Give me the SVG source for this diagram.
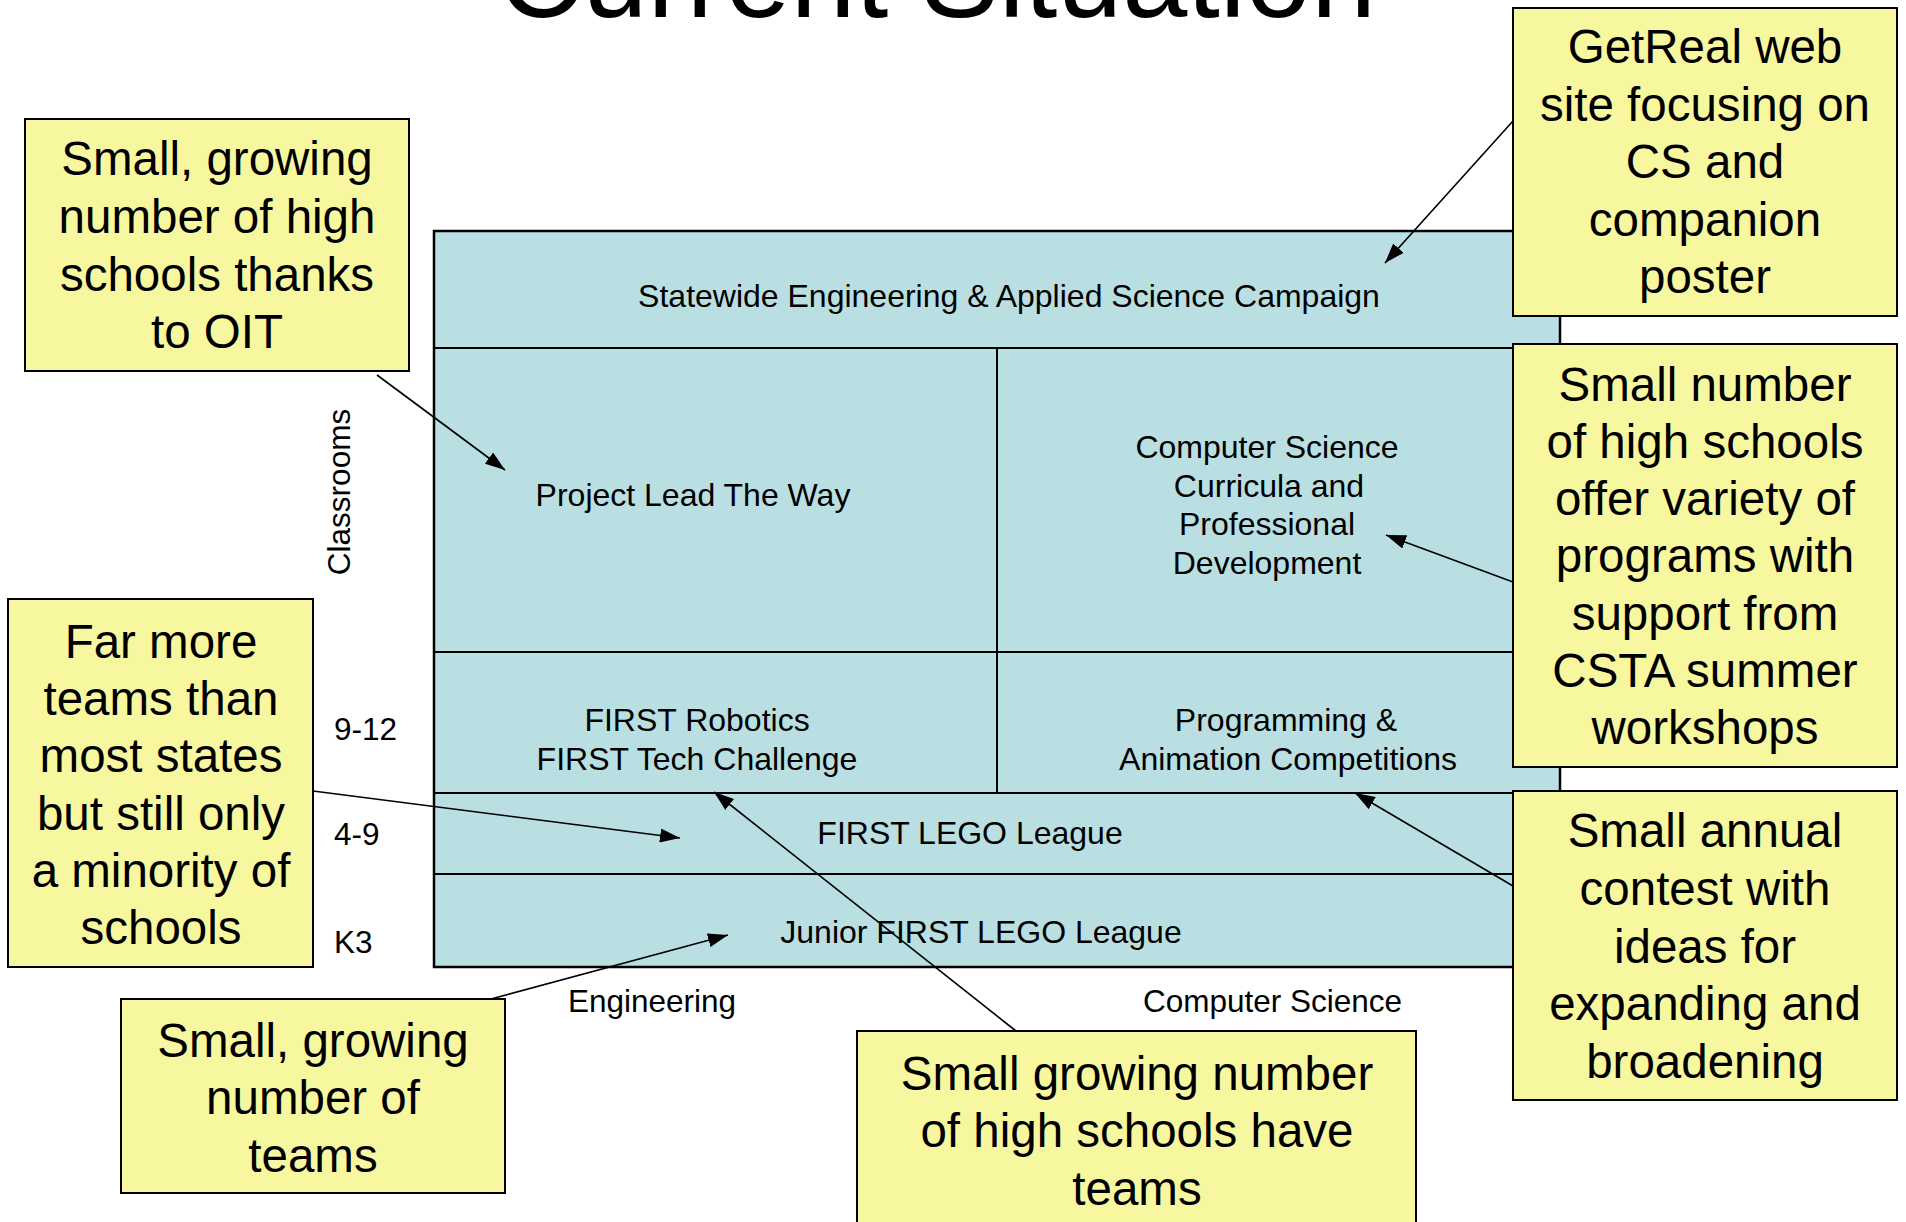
<svg xmlns="http://www.w3.org/2000/svg" width="1906" height="1222" viewBox="0 0 1906 1222">
<style>
text { font-family: "Liberation Sans", Arial, sans-serif; fill: #000; }
.title { font-size: 117px; text-anchor: middle; }
.cell { font-size: 32px; text-anchor: middle; }
.lab { font-size: 31.5px; }
.call { fill: #F7F79F; stroke: #000; stroke-width: 2; }
.ct { font-size: 47.5px; text-anchor: middle; }
.grid { stroke: #000; stroke-width: 2; fill: none; }
.conn { stroke: #000; stroke-width: 1.6; fill: none; marker-end: url(#ah); }
</style>
<defs>
<marker id="ah" viewBox="0 0 20 14" refX="20" refY="7" markerWidth="20" markerHeight="14" markerUnits="userSpaceOnUse" orient="auto">
<path d="M0,0 L20,7 L0,14 z" fill="#000"/>
</marker>
</defs>
<rect width="1906" height="1222" fill="#fff"/>
<text class="title" x="937" y="17">Current Situation</text>

<g id="matrix">
<rect x="434" y="231" width="1126" height="736" fill="#B9DFE2" stroke="#000" stroke-width="2.5"/>
<line class="grid" x1="434" y1="348" x2="1560" y2="348"/>
<line class="grid" x1="434" y1="652" x2="1560" y2="652"/>
<line class="grid" x1="434" y1="793" x2="1560" y2="793"/>
<line class="grid" x1="434" y1="874" x2="1560" y2="874"/>
<line class="grid" x1="997" y1="348" x2="997" y2="793"/>
</g>
<g id="cell-campaign"><text class="cell" x="1009" y="307">Statewide Engineering &amp; Applied Science Campaign</text></g>
<g id="cell-pltw"><text class="cell" x="693" y="506">Project Lead The Way</text></g>
<g id="cell-cs"><text class="cell" x="1267" y="458">Computer Science</text><text class="cell" x="1269" y="496.5">Curricula and</text><text class="cell" x="1267" y="535">Professional</text><text class="cell" x="1267" y="573.5">Development</text></g>
<g id="cell-first"><text class="cell" x="697" y="731">FIRST Robotics</text><text class="cell" x="697" y="770">FIRST Tech Challenge</text></g>
<g id="cell-prog"><text class="cell" x="1286" y="731">Programming &amp;</text><text class="cell" x="1288" y="770">Animation Competitions</text></g>
<g id="cell-fll"><text class="cell" x="970" y="844">FIRST LEGO League</text></g>
<g id="cell-jfll"><text class="cell" x="981" y="943">Junior FIRST LEGO League</text></g>

<g id="axis-labels">
<text class="lab" x="334" y="740">9-12</text>
<text class="lab" x="334" y="845">4-9</text>
<text class="lab" x="334" y="953">K3</text>
<text class="lab" x="568" y="1012">Engineering</text>
<text class="lab" x="1143" y="1012">Computer Science</text>
<text class="lab" text-anchor="middle" transform="translate(350,492) rotate(-90)">Classrooms</text>
</g>

<g id="note-oit">
<rect class="call" x="25" y="119" width="384" height="252"/>
<text class="ct" x="217" y="175">Small, growing</text>
<text class="ct" x="217" y="233">number of high</text>
<text class="ct" x="217" y="291">schools thanks</text>
<text class="ct" x="217" y="348">to OIT</text>
</g>
<g id="note-getreal">
<rect class="call" x="1513" y="8" width="384" height="308"/>
<text class="ct" x="1705" y="63">GetReal web</text>
<text class="ct" x="1705" y="121">site focusing on</text>
<text class="ct" x="1705" y="178">CS and</text>
<text class="ct" x="1705" y="236">companion</text>
<text class="ct" x="1705" y="293">poster</text>
</g>
<g id="note-csta">
<rect class="call" x="1513" y="344" width="384" height="423"/>
<text class="ct" x="1705" y="401">Small number</text>
<text class="ct" x="1705" y="458">of high schools</text>
<text class="ct" x="1705" y="515">offer variety of</text>
<text class="ct" x="1705" y="572">programs with</text>
<text class="ct" x="1705" y="630">support from</text>
<text class="ct" x="1705" y="687">CSTA summer</text>
<text class="ct" x="1705" y="744">workshops</text>
</g>
<g id="note-contest">
<rect class="call" x="1513" y="791" width="384" height="309"/>
<text class="ct" x="1705" y="847">Small annual</text>
<text class="ct" x="1705" y="905">contest with</text>
<text class="ct" x="1705" y="963">ideas for</text>
<text class="ct" x="1705" y="1020">expanding and</text>
<text class="ct" x="1705" y="1078">broadening</text>
</g>
<g id="note-fll">
<rect class="call" x="8" y="599" width="305" height="368"/>
<text class="ct" x="161" y="658">Far more</text>
<text class="ct" x="161" y="715">teams than</text>
<text class="ct" x="161" y="772">most states</text>
<text class="ct" x="161" y="830">but still only</text>
<text class="ct" x="161" y="887">a minority of</text>
<text class="ct" x="161" y="944">schools</text>
</g>
<g id="note-jfll">
<rect class="call" x="121" y="999" width="384" height="194"/>
<text class="ct" x="313" y="1057">Small, growing</text>
<text class="ct" x="313" y="1114">number of</text>
<text class="ct" x="313" y="1172">teams</text>
</g>
<g id="note-hs">
<rect class="call" x="857" y="1031" width="559" height="210"/>
<text class="ct" x="1137" y="1090">Small growing number</text>
<text class="ct" x="1137" y="1147">of high schools have</text>
<text class="ct" x="1137" y="1205">teams</text>
</g>

<g id="connectors">
<line class="conn" x1="377" y1="375" x2="505" y2="470"/>
<line class="conn" x1="1513" y1="121" x2="1385" y2="263"/>
<line class="conn" x1="1513" y1="582" x2="1386" y2="535"/>
<line class="conn" x1="1513" y1="886" x2="1355" y2="793"/>
<line class="conn" x1="313" y1="791" x2="680" y2="838"/>
<line class="conn" x1="491" y1="999" x2="728" y2="935"/>
<line class="conn" x1="1016" y1="1031" x2="714" y2="792"/>
</g>
</svg>
